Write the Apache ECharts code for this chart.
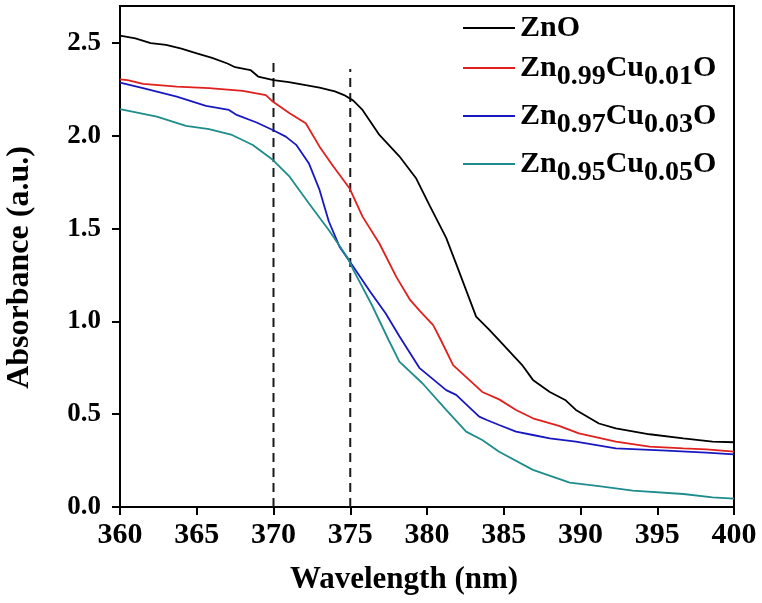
<!DOCTYPE html>
<html>
<head>
<meta charset="utf-8">
<script src="https://cdn.jsdelivr.net/npm/echarts@6/dist/echarts.min.js"></script>
<style>
html,body{margin:0;padding:0;background:#fff;}
#chart{width:762px;height:603px;}
</style>
</head>
<body>
<div id="chart"></div>
<script>
var seriesNames = ['ZnO', 'Zn0.99Cu0.01O', 'Zn0.97Cu0.03O', 'Zn0.95Cu0.05O'];
var seriesColors = ['#000000', '#e0201c', '#1818c0', '#1e8c8c'];
var xTicks = [360, 365, 370, 375, 380, 385, 390, 395, 400];
var yTicks = [0, 0.5, 1.0, 1.5, 2.0, 2.5];

var znoData = [[360,2.54],[361,2.525],[362,2.50],[363,2.49],[364,2.47],[365,2.445],[366,2.42],[367,2.39],[367.5,2.37],[368.5,2.355],[369,2.32],[370,2.30],[371,2.29],[372,2.275],[373,2.26],[374,2.24],[374.6,2.22],[375.2,2.19],[375.8,2.14],[376.9,2.005],[378.2,1.89],[379.3,1.77],[380.2,1.62],[381.25,1.45],[381.9,1.31],[383.2,1.026],[384.0,0.96],[384.9,0.88],[386.2,0.765],[386.9,0.685],[388.0,0.62],[389.0,0.577],[389.7,0.523],[391.2,0.45],[392.3,0.424],[394.5,0.392],[396.7,0.37],[398.6,0.352],[400,0.349]];
var cu01Data = [[360,2.305],[360.5,2.30],[361.5,2.28],[363.7,2.266],[365.8,2.257],[368.0,2.243],[369.5,2.22],[369.95,2.185],[371.05,2.122],[372.1,2.068],[373.0,1.942],[373.9,1.835],[374.95,1.718],[375.8,1.565],[376.9,1.42],[378.0,1.24],[378.9,1.116],[379.5,1.06],[380.4,0.98],[380.9,0.90],[381.7,0.765],[383.6,0.62],[384.7,0.58],[385.8,0.523],[386.9,0.478],[388.6,0.437],[389.9,0.397],[392.3,0.352],[394.5,0.325],[396.7,0.316],[398.2,0.311],[400,0.298]];
var cu03Data = [[360,2.287],[361.5,2.257],[363.7,2.212],[365.6,2.162],[367.1,2.14],[367.6,2.113],[368.9,2.072],[369.95,2.032],[370.8,1.996],[371.5,1.95],[372.3,1.853],[373.0,1.709],[373.6,1.54],[374.3,1.403],[375.2,1.295],[376.3,1.16],[377.3,1.044],[378.2,0.92],[379.5,0.75],[381.25,0.63],[381.9,0.604],[383.4,0.487],[383.9,0.469],[384.7,0.442],[385.8,0.406],[386.9,0.388],[388.0,0.37],[389.7,0.352],[392.3,0.316],[395.6,0.304],[398.2,0.293],[400,0.284]];
var cu05Data = [[360,2.144],[362.4,2.104],[364.3,2.054],[365.8,2.036],[367.3,2.005],[368.65,1.951],[369.95,1.871],[371.05,1.78],[372.3,1.637],[373.6,1.493],[374.85,1.34],[375.2,1.278],[376.4,1.09],[377.5,0.9],[378.2,0.783],[379.7,0.667],[381.25,0.523],[382.55,0.406],[383.6,0.361],[384.7,0.298],[386.9,0.20],[389.3,0.131],[391.2,0.113],[393.4,0.088],[396.7,0.07],[398.6,0.052],[400,0.045]];
var dash370 = [[370,0],[370,2.41]];
var dash375 = [[375,0],[375,2.36]];

var FONT = '"Liberation Serif", "Times New Roman", serif';
var chart = echarts.init(document.getElementById('chart'), null, {renderer:'canvas'});

var curves = [znoData, cu01Data, cu03Data, cu05Data];
var series = curves.map(function(d, i){
  return {
    name: seriesNames[i], type: 'line', data: d, showSymbol: false, symbol: 'none',
    smooth: false, lineStyle: {color: seriesColors[i], width: 1.8}, itemStyle: {color: seriesColors[i]},
    z: 3
  };
});
[dash370, dash375].forEach(function(d){
  series.push({
    type: 'line', data: d, showSymbol: false, symbol: 'none', silent: true,
    lineStyle: {color: '#1a1a1a', width: 2, type: [9, 6]}, z: 2
  });
});

chart.setOption({
  animation: false,
  backgroundColor: '#fff',
  grid: {left: 120, right: 28, top: 6, bottom: 96, show: true, borderColor: '#000', borderWidth: 2, backgroundColor: 'transparent', outerBoundsMode: 'none'},
  legend: {
    data: seriesNames,
    orient: 'vertical', left: 458, top: 8, itemWidth: 52, itemHeight: 2, itemGap: 4,
    icon: 'rect',
    formatter: function(name){
      return name.replace(/([A-Za-z]+)|(\d\.\d+)/g, function(m, a, d){ return a ? '{n|' + a + '}' : '{s|' + d + '}'; });
    },
    textStyle: {
      color: '#000', fontFamily: FONT, fontWeight: 'bold',
      rich: {
        n: {fontSize: 30, fontFamily: FONT, fontWeight: 'bold', color: '#000', lineHeight: 42, verticalAlign: 'middle'},
        s: {fontSize: 28, fontFamily: FONT, fontWeight: 'bold', color: '#000', lineHeight: 26, padding: [16, 0, 0, 0], verticalAlign: 'top'}
      }
    }
  },
  xAxis: {
    type: 'value', min: 360, max: 400, interval: 5,
    name: 'Wavelength (nm)', nameLocation: 'middle', nameGap: 57,
    nameTextStyle: {fontFamily: FONT, fontWeight: 'bold', fontSize: 31, color: '#000', padding: [0, 46, 0, 0]},
    axisLine: {show: true, onZero: false, lineStyle: {color: '#000', width: 2}},
    axisTick: {show: true, inside: false, length: 8, lineStyle: {color: '#000', width: 2}, customValues: xTicks},
    axisLabel: {fontFamily: FONT, fontWeight: 'bold', fontSize: 30, color: '#000', margin: 13, customValues: xTicks},
    splitLine: {show: false}
  },
  yAxis: {
    type: 'value', min: 0, max: 2.7,
    name: 'Absorbance (a.u.)', nameLocation: 'middle', nameGap: 84,
    nameTextStyle: {fontFamily: FONT, fontWeight: 'bold', fontSize: 32, color: '#000', padding: [0, 22, 0, 0]},
    axisLine: {show: true, onZero: false, lineStyle: {color: '#000', width: 2}},
    axisTick: {show: true, inside: false, length: 8, lineStyle: {color: '#000', width: 2}, customValues: yTicks},
    axisLabel: {fontFamily: FONT, fontWeight: 'bold', fontSize: 27, color: '#000', margin: 19, customValues: yTicks,
      formatter: function(v){ return Number(v).toFixed(1); }},
    splitLine: {show: false}
  },
  series: series
});
</script>
</body>
</html>
